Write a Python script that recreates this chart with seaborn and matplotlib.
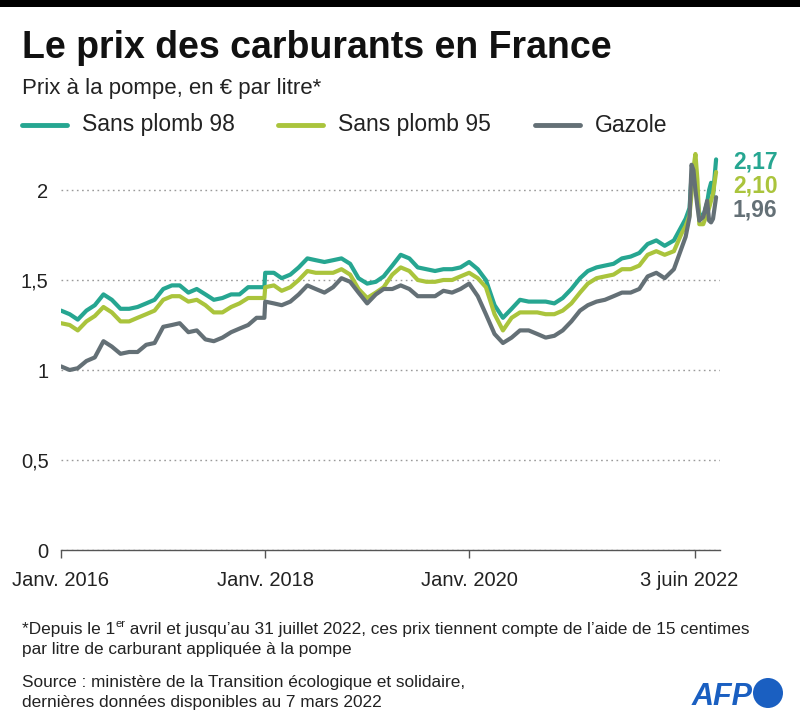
import pandas as pd
import seaborn as sns
import matplotlib.pyplot as plt
import matplotlib.transforms as mtransforms
from matplotlib.lines import Line2D
from matplotlib.patches import Ellipse, Rectangle

# dates : mensuel 2016-2021 (+ veille de la hausse de taxes de janv. 2018), puis hebdo pour 2022
months = list(pd.date_range('2016-01-01', '2021-12-01', freq='MS'))
dates_2022 = ['2022-01-03', '2022-01-31', '2022-02-14', '2022-02-28', '2022-03-07',
              '2022-03-14', '2022-03-21', '2022-03-28', '2022-04-04', '2022-04-18',
              '2022-05-02', '2022-05-09', '2022-05-16', '2022-05-23', '2022-06-03']
dates = months + list(pd.to_datetime(dates_2022))

sp98 = [1.33, 1.31, 1.28, 1.33, 1.36, 1.42, 1.39, 1.34, 1.34, 1.35, 1.37, 1.39,
        1.45, 1.47, 1.47, 1.43, 1.45, 1.42, 1.39, 1.40, 1.42, 1.42, 1.46, 1.46,
        1.54, 1.54, 1.51, 1.53, 1.57, 1.62, 1.61, 1.60, 1.61, 1.62, 1.59, 1.51,
        1.48, 1.49, 1.52, 1.58, 1.64, 1.62, 1.57, 1.56, 1.55, 1.56, 1.56, 1.57,
        1.60, 1.56, 1.50, 1.36, 1.29, 1.34, 1.39, 1.38, 1.38, 1.38, 1.37, 1.40,
        1.45, 1.51, 1.55, 1.57, 1.58, 1.59, 1.62, 1.63, 1.65, 1.70, 1.72, 1.69,
        1.72, 1.80, 1.84, 1.90, 2.08, 2.12, 2.05, 1.95, 1.87, 1.85, 1.93, 2.00, 2.04, 1.97, 2.17]
sp95 = [1.26, 1.25, 1.22, 1.27, 1.30, 1.35, 1.32, 1.27, 1.27, 1.29, 1.31, 1.33,
        1.39, 1.41, 1.41, 1.38, 1.39, 1.36, 1.32, 1.32, 1.35, 1.37, 1.40, 1.40,
        1.46, 1.47, 1.44, 1.46, 1.50, 1.55, 1.54, 1.54, 1.54, 1.56, 1.53, 1.45,
        1.40, 1.43, 1.46, 1.53, 1.57, 1.55, 1.50, 1.49, 1.49, 1.50, 1.50, 1.52,
        1.54, 1.51, 1.46, 1.31, 1.22, 1.29, 1.32, 1.32, 1.32, 1.31, 1.31, 1.33,
        1.37, 1.43, 1.48, 1.51, 1.52, 1.53, 1.56, 1.56, 1.58, 1.64, 1.66, 1.64,
        1.66, 1.76, 1.80, 1.86, 1.98, 2.12, 2.20, 2.06, 1.81, 1.81, 1.87, 1.90, 1.94, 1.98, 2.10]
gazole = [1.02, 1.00, 1.01, 1.05, 1.07, 1.16, 1.13, 1.09, 1.10, 1.10, 1.14, 1.15,
          1.24, 1.25, 1.26, 1.21, 1.22, 1.17, 1.16, 1.18, 1.21, 1.23, 1.25, 1.29,
          1.38, 1.37, 1.36, 1.38, 1.42, 1.47, 1.45, 1.43, 1.46, 1.51, 1.49, 1.43,
          1.37, 1.42, 1.45, 1.45, 1.47, 1.45, 1.41, 1.41, 1.41, 1.44, 1.43, 1.45,
          1.48, 1.41, 1.31, 1.20, 1.15, 1.18, 1.22, 1.22, 1.20, 1.18, 1.19, 1.22,
          1.27, 1.33, 1.36, 1.38, 1.39, 1.41, 1.43, 1.43, 1.45, 1.52, 1.54, 1.51,
          1.56, 1.68, 1.74, 1.85, 2.14, 2.11, 2.00, 1.91, 1.83, 1.85, 1.94, 1.83, 1.82, 1.84, 1.96]

# point relevé juste avant la hausse du 1er janvier 2018
extra_date = '2017-12-29'
extra_sp98, extra_sp95, extra_gazole = 1.46, 1.40, 1.29

series = ['Sans plomb 98', 'Sans plomb 95', 'Gazole']
colors = ['#26a691', '#aac43c', '#647076']
end_labels = ['2,17', '2,10', '1,96']

xtick_dates = ['2016-01-01', '2018-01-01', '2020-01-01', '2022-03-20']
xtick_labels = ['Janv. 2016', 'Janv. 2018', 'Janv. 2020', '3 juin 2022']
yticks = [0, 0.5, 1, 1.5, 2]
ytick_labels = ['0', '0,5', '1', '1,5', '2']

all_dates = dates + [pd.Timestamp(extra_date)]
df = pd.DataFrame({
    'date': all_dates * 3,
    'prix': (sp98 + [extra_sp98]) + (sp95 + [extra_sp95]) + (gazole + [extra_gazole]),
    'carburant': [s for s in series for _ in all_dates],
}).sort_values(['carburant', 'date'])

sns.set_theme(style='white')
plt.rcParams['font.family'] = ['Liberation Sans', 'DejaVu Sans']
TXT = '#222222'

W, H = 800, 718
fig = plt.figure(figsize=(W / 100, H / 100), dpi=100)
ax = fig.add_axes([61 / W, 1 - 550 / H, 659 / W, 2.3 * 180 / H])

sns.lineplot(data=df, x='date', y='prix', hue='carburant', hue_order=series,
             palette=colors, linewidth=3, legend=False, ax=ax,
             solid_joinstyle='round', solid_capstyle='round')

ax.set_xlim(pd.Timestamp('2016-01-01'), pd.Timestamp('2022-06-17'))
ax.set_ylim(0, 2.3)
ax.set_xlabel('')
ax.set_ylabel('')
ax.set_yticks(yticks, ytick_labels)
ax.set_xticks(pd.to_datetime(xtick_dates), xtick_labels)
ax.yaxis.grid(True, linestyle=(0, (1.2, 2.5)), color='#9a9a9a', linewidth=1)
ax.xaxis.grid(False)
for s in ['top', 'right', 'left']:
    ax.spines[s].set_visible(False)
ax.spines['bottom'].set_color('#555555')
ax.spines['bottom'].set_linewidth(1)
ax.tick_params(axis='y', length=0, pad=9, labelsize=14.5, labelcolor=TXT)
ax.tick_params(axis='x', direction='out', length=6, width=1, color='#555555',
               pad=9, labelsize=14.5, labelcolor=TXT, bottom=True)
last = ax.get_xticklabels()[-1]
last.set_transform(last.get_transform() + mtransforms.ScaledTranslation(-6 / 100, 0, fig.dpi_scale_trans))

# étiquettes de fin
lab_tr = mtransforms.blended_transform_factory(ax.transAxes, ax.transData)
for lab, col, yv in zip(end_labels, colors, [2.155, 2.022, 1.889]):
    ax.text(1.0197, yv, lab, transform=lab_tr, color=col, fontsize=16.5,
            fontweight='bold', va='center', ha='left', clip_on=False)


def fx(px):
    return px / W


def fy(py):
    return 1 - py / H


fig.add_artist(Rectangle((0, fy(7)), 1, 7 / H, transform=fig.transFigure,
                         color='black', lw=0))
fig.text(fx(22), fy(58), 'Le prix des carburants en France', fontsize=27,
         fontweight='bold', color='#111111', va='baseline')
fig.text(fx(22), fy(94), 'Prix à la pompe, en € par litre*', fontsize=16,
         color=TXT, va='baseline')

# légende
for name, col, x0 in zip(series, colors, [22, 278, 535]):
    fig.add_artist(Line2D([fx(x0), fx(x0 + 45)], [fy(125), fy(125)],
                          transform=fig.transFigure, color=col, lw=3.5,
                          solid_capstyle='round'))
    fig.text(fx(x0 + 60), fy(125), name, fontsize=16.5, color=TXT, va='center')

# note
FS = 12.4
r = fig.canvas.get_renderer()
t1 = fig.text(fx(22), fy(634), '*Depuis le 1', fontsize=FS, color=TXT, va='baseline')
bb = t1.get_window_extent(r)
t2 = fig.text(bb.x1 / W, fy(627), 'er', fontsize=8, color=TXT, va='baseline')
bb2 = t2.get_window_extent(r)
fig.text(bb2.x1 / W, fy(634),
         ' avril et jusqu’au 31 juillet 2022, ces prix tiennent compte de l’aide de 15 centimes',
         fontsize=FS, color=TXT, va='baseline')
fig.text(fx(22), fy(654), 'par litre de carburant appliquée à la pompe', fontsize=FS,
         color=TXT, va='baseline')
fig.text(fx(22), fy(687), 'Source : ministère de la Transition écologique et solidaire,',
         fontsize=FS, color=TXT, va='baseline')
fig.text(fx(22), fy(707), 'dernières données disponibles au 7 mars 2022', fontsize=FS,
         color=TXT, va='baseline')

# logo AFP
fig.text(fx(692), fy(705), 'AFP', fontsize=22, fontweight='bold', fontstyle='italic',
         color='#1a5fc1', va='baseline')
fig.add_artist(Ellipse((fx(768), fy(693)), 30 / W, 30 / H, transform=fig.transFigure,
                       color='#1a5fc1', lw=0))

fig.savefig('out.png', dpi=100, facecolor='white')
